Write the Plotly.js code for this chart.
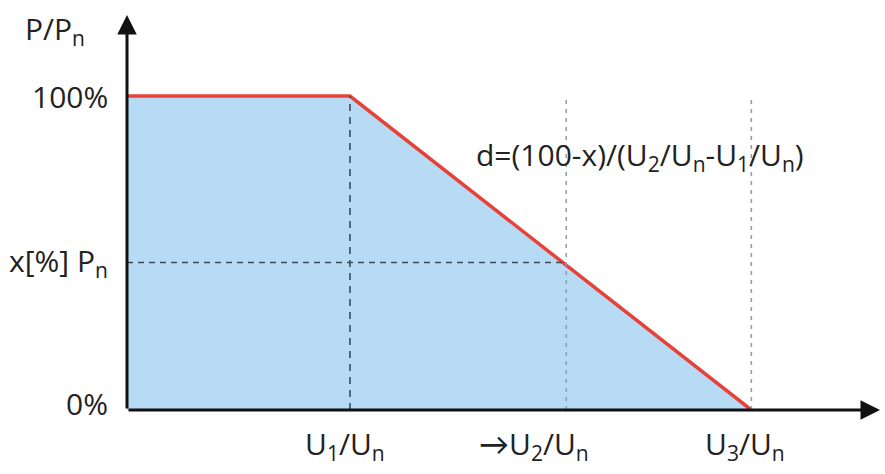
<!DOCTYPE html>
<html><head><meta charset="utf-8">
<script src="https://cdn.plot.ly/plotly-3.0.1.min.js"></script>
<style>html,body{margin:0;padding:0;background:#fff}</style>
</head><body>
<div id="chart" style="width:885px;height:474px"></div>
<script>
// Characteristic points (x in units of U1/Un, y in % of Pn)
var curveX = [0, 1.0, 2.80];
var curveY = [100, 100, 0];
var u1 = 1.0, u2 = 1.97, u3 = 2.80;
var xLevel = 47;
var xTickVals = [1.0, 1.97, 2.80];
var xTickText = ['U<sub>1</sub>/U<sub>n</sub>', '\u2192U<sub>2</sub>/U<sub>n</sub>', 'U<sub>3</sub>/U<sub>n</sub>'];
var xLabelShift = [-5, -32, -6];
var yTickVals = [0, 47, 100];
var yTickText = ['0%', 'x[%] P<sub>n</sub>', '100%'];
var yLabelShift = [7, 0, 0];

var FONT = '"Open Sans", Lato, sans-serif';
var TXT = '#222';
var W = 500;
var traces = [
  {x: curveX, y: curveY, type: 'scatter', mode: 'lines', fill: 'tozeroy',
   fillcolor: '#b7dbf4', line: {color: '#e8413a', width: 3.5}, hoverinfo: 'skip'},
  {x: [0, u2], y: [xLevel, xLevel], mode: 'lines', line: {color: '#3c4a5c', width: 1.6, dash: '6px,5px'}, hoverinfo: 'skip'},
  {x: [u1, u1], y: [0, 100], mode: 'lines', line: {color: '#3c4a5c', width: 1.6, dash: '7px,6px'}, hoverinfo: 'skip'},
  {x: [u2, u2], y: [0, 98.7], mode: 'lines', line: {color: '#8aa3b0', width: 1.6, dash: '4px,5px'}, hoverinfo: 'skip'},
  {x: [u3, u3], y: [0, 98.7], mode: 'lines', line: {color: '#8aa3b0', width: 1.6, dash: '4px,5px'}, hoverinfo: 'skip'}
];

var ann = [
  {x: 3.377, y: 0, ax: 0, ay: 0, xref: 'x', yref: 'y', axref: 'x', ayref: 'y',
   showarrow: true, arrowhead: 2, arrowsize: 1.3, arrowwidth: 3, arrowcolor: '#111', text: ''},
  {x: 0, y: 125.8, ax: 0, ay: 0, xref: 'x', yref: 'y', axref: 'x', ayref: 'y',
   showarrow: true, arrowhead: 2, arrowsize: 1.3, arrowwidth: 3, arrowcolor: '#111', text: ''},
  {x: 0, y: 121, xref: 'x', yref: 'y', xanchor: 'right', yanchor: 'middle', xshift: -40,
   text: 'P/P<sub>n</sub>', showarrow: false, font: {family: FONT, size: 30, weight: W, color: TXT}},
  {x: 2.30, y: 81, xref: 'x', yref: 'y', xanchor: 'center', yanchor: 'middle',
   text: 'd=(100-x)/(U<sub>2</sub>/U<sub>n</sub>-U<sub>1</sub>/U<sub>n</sub>)', showarrow: false,
   font: {family: FONT, size: 30, weight: W, color: TXT}}
];
xTickVals.forEach(function (v, i) {
  ann.push({x: v, y: 0, xref: 'x', yref: 'y', xanchor: 'center', yanchor: 'top',
    xshift: xLabelShift[i], yshift: -11, text: xTickText[i], showarrow: false,
    font: {family: FONT, size: 30, weight: W, color: TXT}});
});
yTickVals.forEach(function (v, i) {
  ann.push({x: 0, y: v, xref: 'x', yref: 'y', xanchor: 'right', yanchor: 'middle',
    xshift: -17, yshift: yLabelShift[i], text: yTickText[i], showarrow: false,
    font: {family: FONT, size: 30, weight: W, color: TXT}});
});

var layout = {
  width: 885, height: 474,
  margin: {l: 127, r: 3, t: 10, b: 64},
  paper_bgcolor: '#fff', plot_bgcolor: '#fff',
  showlegend: false,
  xaxis: {range: [0, 3.386], showgrid: false, zeroline: false, showline: false,
          showticklabels: false, ticks: '', fixedrange: true},
  yaxis: {range: [0, 127.4], showgrid: false, zeroline: false, showline: false,
          showticklabels: false, ticks: '', fixedrange: true},
  annotations: ann
};
Plotly.newPlot('chart', traces, layout, {staticPlot: true, displayModeBar: false});
</script>
</body></html>
